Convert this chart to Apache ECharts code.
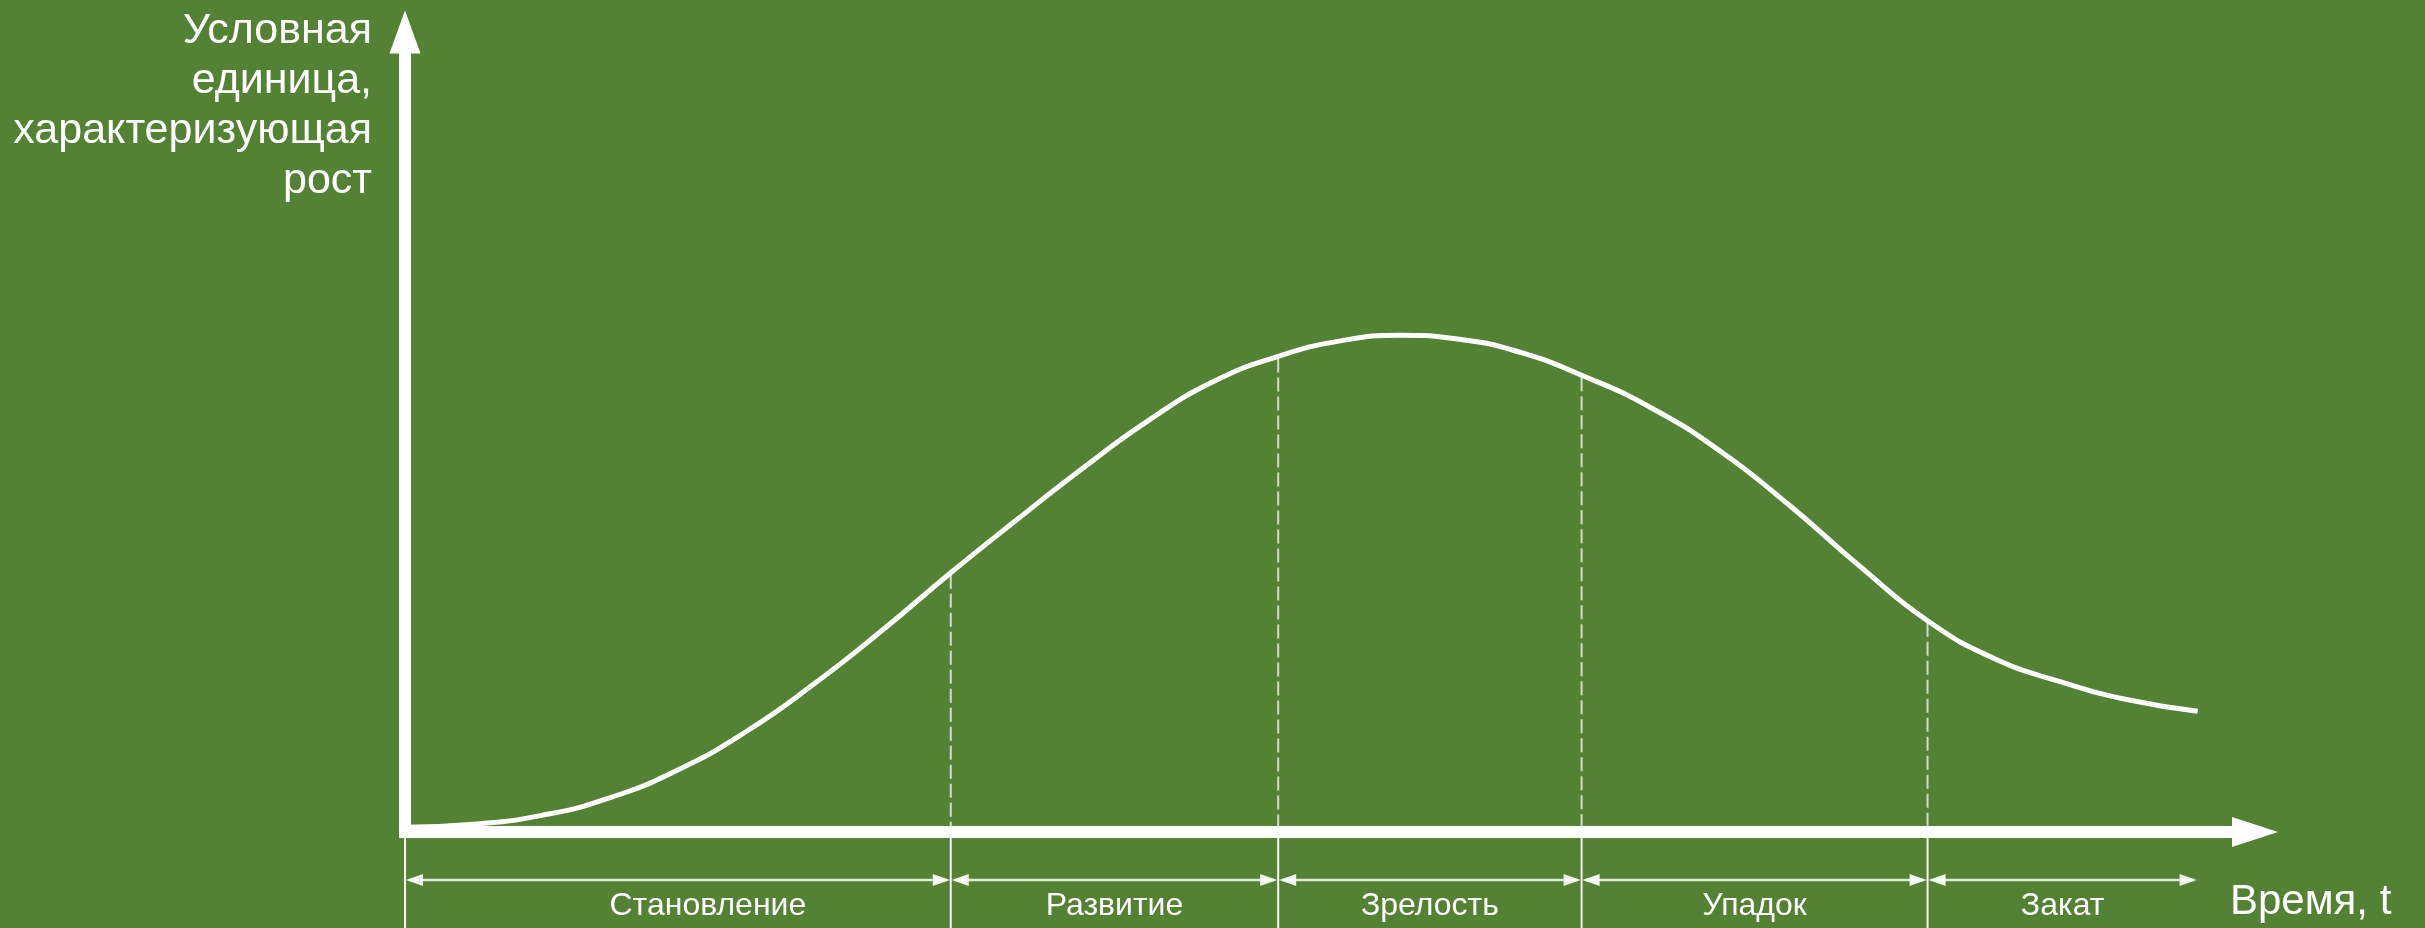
<!DOCTYPE html>
<html>
<head>
<meta charset="utf-8">
<script src="https://cdn.jsdelivr.net/npm/echarts@6/dist/echarts.min.js"></script>
<style>
html,body{margin:0;padding:0;background:#548235;}
#c{width:2425px;height:928px;}
</style>
</head>
<body>
<div id="c"></div>
<script>
// ---- data ----
const curveX = [0, 3.7, 7.4, 11.1, 14.8, 18.4, 22.1, 25.8, 29.5, 33.0, 36.6, 40.1, 43.7, 47.2, 50.5, 53.8, 57.0, 60.3, 63.6, 67.3, 71.1, 74.8, 78.6, 82.3, 85.9, 89.6, 93.2, 96.9];
const curveY = [0.6, 0.97, 2.08, 4.3, 7.82, 12.5, 18.49, 25.22, 32.4, 38.9, 45.4, 51.3, 56.3, 59.45, 61.36, 62.1, 61.6, 59.95, 57.1, 53.1, 47.6, 40.9, 33.3, 26.4, 21.7, 18.7, 16.5, 15.1];
const phaseNames = ['Становление', 'Развитие', 'Зрелость', 'Упадок', 'Закат'];
const phaseBounds = [0, 29.5, 47.2, 63.6, 82.3, 96.9];
const boundaryLevels = [32.4, 59.45, 57.1, 26.4];
const yAxisTitle = 'Условная\nединица,\nхарактеризующая\nрост';
const xAxisTitle = 'Время, t';

// ---- chart ----
const FONT = '"Liberation Sans", Arial, sans-serif';
const chart = echarts.init(document.getElementById('c'), null, {renderer: 'canvas'});

const phaseData = phaseNames.map((n, i) => [phaseBounds[i], phaseBounds[i + 1], i]);

function renderPhase(params, api) {
  const i = params.dataIndex;
  const s = api.value(0), e = api.value(1);
  const p0 = api.coord([s, 0]);
  const p1 = api.coord([e, 0]);
  const ay = p0[1];
  const by = ay + 48;
  const children = [];
  // solid separator below axis
  children.push({type: 'line', shape: {x1: p0[0], y1: ay + 6, x2: p0[0], y2: ay + 110},
    style: {stroke: 'rgba(255,255,255,0.95)', lineWidth: 2}});
  // bracket line
  children.push({type: 'line', shape: {x1: p0[0] + 4, y1: by, x2: p1[0] - 4, y2: by},
    style: {stroke: 'rgba(240,244,236,0.9)', lineWidth: 2.5}});
  children.push({type: 'polygon', shape: {points: [[p0[0] + 1, by], [p0[0] + 18, by - 6], [p0[0] + 18, by + 6]]},
    style: {fill: 'rgba(250,252,248,0.95)'}});
  children.push({type: 'polygon', shape: {points: [[p1[0] - 1, by], [p1[0] - 18, by - 6], [p1[0] - 18, by + 6]]},
    style: {fill: 'rgba(250,252,248,0.95)'}});
  // label (the first one sits a little right of the bracket centre)
  const shift = i === 0 ? 30 : 0;
  children.push({type: 'text', x: (p0[0] + p1[0]) / 2 + shift, y: ay + 74,
    style: {text: phaseNames[i], fill: '#fff', font: '32px ' + FONT, align: 'center', verticalAlign: 'middle'}});
  // dashed line from axis up to curve
  if (i < boundaryLevels.length) {
    const top = api.coord([e, boundaryLevels[i]]);
    children.push({type: 'line', shape: {x1: top[0], y1: top[1] + 2, x2: top[0], y2: ay - 6},
      style: {stroke: 'rgba(225,228,222,0.9)', lineWidth: 2, lineDash: [14, 5]}});
  }
  return {type: 'group', children};
}

const option = {
  backgroundColor: '#548235',
  animation: false,
  grid: {left: 405, right: 170, top: 32, bottom: 96, containLabel: false},
  xAxis: {
    type: 'value', min: 0, max: 100,
    axisLine: {show: true, onZero: false, symbol: ['none', 'triangle'], symbolSize: [30, 46],
      lineStyle: {color: '#ffffff', width: 12, cap: 'square'}},
    axisTick: {show: false}, axisLabel: {show: false}, splitLine: {show: false}
  },
  yAxis: {
    type: 'value', min: 0, max: 100,
    axisLine: {show: true, onZero: false, symbol: ['none', 'triangle'], symbolSize: [31, 43],
      lineStyle: {color: '#ffffff', width: 12, cap: 'square'}},
    axisTick: {show: false}, axisLabel: {show: false}, splitLine: {show: false}
  },
  graphic: [
    {type: 'text', x: 372, y: 6, z: 10,
      style: {text: yAxisTitle, fill: '#fff', font: '43px ' + FONT, align: 'right', verticalAlign: 'top', lineHeight: 50}},
    {type: 'text', x: 2230, y: 902, z: 10,
      style: {text: xAxisTitle, fill: '#fff', font: '42px ' + FONT, align: 'left', verticalAlign: 'middle'}}
  ],
  series: [
    {
      type: 'custom', renderItem: renderPhase, data: phaseData, clip: false, z: 2,
      encode: {x: [0, 1], y: 2}, silent: true
    },
    {
      type: 'line', data: curveX.map((x, i) => [x, curveY[i]]),
      smooth: 0.5, showSymbol: false, symbol: 'none',
      lineStyle: {color: '#ffffff', width: 5}, z: 3, silent: true
    }
  ]
};
chart.setOption(option);
</script>
</body>
</html>
